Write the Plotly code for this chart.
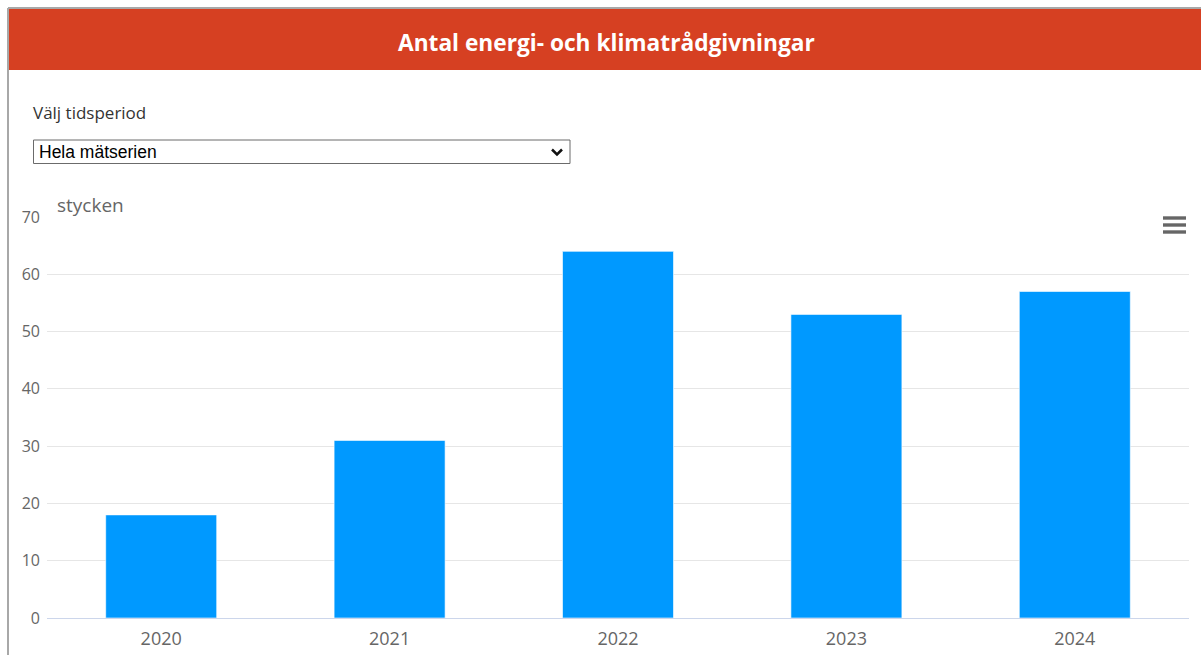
import plotly.graph_objects as go

# ---- data ----
years = ["2020", "2021", "2022", "2023", "2024"]
counts = [18, 31, 64, 53, 57]
y_ticks = [0, 10, 20, 30, 40, 50, 60, 70]

W, H = 1201, 655
X0, X1 = 47, 1189   # plot area in pixels
Y0, Y1 = 217, 618   # top / bottom of plot area in pixels


def px(x):
    return (x - X0) / (X1 - X0)


def py(y):
    return (Y1 - y) / (Y1 - Y0)


fig = go.Figure()
fig.add_trace(go.Bar(
    x=years, y=counts,
    marker=dict(color="#0099FF", line=dict(color="rgba(255,255,255,0.6)", width=1)),
    hoverinfo="x+y",
))

shapes = []
# outer page borders
shapes.append(dict(type="line", xref="paper", yref="paper", x0=px(8), x1=px(1201), y0=py(8), y1=py(8),
                   line=dict(color="#a8a8a8", width=2), layer="above"))
shapes.append(dict(type="line", xref="paper", yref="paper", x0=px(8), x1=px(8), y0=py(8), y1=py(H),
                   line=dict(color="#a8a8a8", width=2), layer="above"))
# red header
shapes.append(dict(type="rect", xref="paper", yref="paper", x0=px(9), x1=px(1201), y0=py(9), y1=py(70),
                   fillcolor="#D64022", line=dict(width=0), layer="above"))
# dropdown box
shapes.append(dict(type="rect", xref="paper", yref="paper", x0=px(33.5), x1=px(570), y0=py(140), y1=py(163.5),
                   fillcolor="white", line=dict(color="#6b6b6b", width=1), layer="above"))
# chevron
cx, cy = 557, 152
shapes.append(dict(type="path", xref="paper", yref="paper",
                   path=f"M {px(cx-5)} {py(cy-2.5)} L {px(cx)} {py(cy+2.5)} L {px(cx+5)} {py(cy-2.5)}",
                   line=dict(color="#111111", width=2.5), layer="above"))
# white cover behind menu button
shapes.append(dict(type="rect", xref="paper", yref="paper", x0=px(1158), x1=px(1192), y0=py(205), y1=py(240),
                   fillcolor="white", line=dict(width=0), layer="above"))
# hamburger menu icon
for yy in (218, 225, 232):
    shapes.append(dict(type="rect", xref="paper", yref="paper", x0=px(1163), x1=px(1186),
                       y0=py(yy - 1.7), y1=py(yy + 1.7),
                       fillcolor="#666666", line=dict(width=0), layer="above"))

annotations = [
    dict(text="<b>Antal energi- och klimatrådgivningar</b>", xref="paper", yref="paper",
         x=px(606), y=py(42), xanchor="center", yanchor="middle", showarrow=False,
         font=dict(family="Open Sans", size=22.7, color="white")),
    dict(text="Välj tidsperiod", xref="paper", yref="paper",
         x=px(31), y=py(113), xanchor="left", yanchor="middle", showarrow=False,
         font=dict(family="Open Sans", size=17, color="#333333")),
    dict(text="Hela mätserien", xref="paper", yref="paper",
         x=px(37), y=py(152), xanchor="left", yanchor="middle", showarrow=False,
         font=dict(family="Liberation Sans", size=17.5, color="#000000")),
    dict(text="stycken", xref="paper", yref="paper",
         x=px(55), y=py(205), xanchor="left", yanchor="middle", showarrow=False,
         font=dict(family="Open Sans", size=19, color="#666666")),
]

fig.update_layout(
    width=W, height=H,
    margin=dict(l=X0, r=W - X1, t=Y0, b=H - Y1, autoexpand=False),
    paper_bgcolor="white", plot_bgcolor="white",
    bargap=0.514,
    showlegend=False,
    shapes=shapes,
    annotations=annotations,
    xaxis=dict(
        type="category",
        automargin=False,
        showgrid=False,
        showline=True, linecolor="#ccd6eb", linewidth=1,
        ticks="", ticklabelstandoff=4,
        tickfont=dict(family="Open Sans", size=18, color="#666666"),
        fixedrange=True,
    ),
    yaxis=dict(
        range=[0, 70],
        automargin=False,
        tickvals=y_ticks,
        showgrid=True, gridcolor="#e6e6e6", gridwidth=1,
        zeroline=False, showline=False,
        ticks="", ticklabelstandoff=6,
        tickfont=dict(family="Open Sans", size=16, color="#666666"),
        fixedrange=True,
    ),
)

fig.write_html(
    "out.html",
    config={"displayModeBar": False},
    post_script="document.body.style.margin='0';document.body.style.overflow='hidden';",
)
